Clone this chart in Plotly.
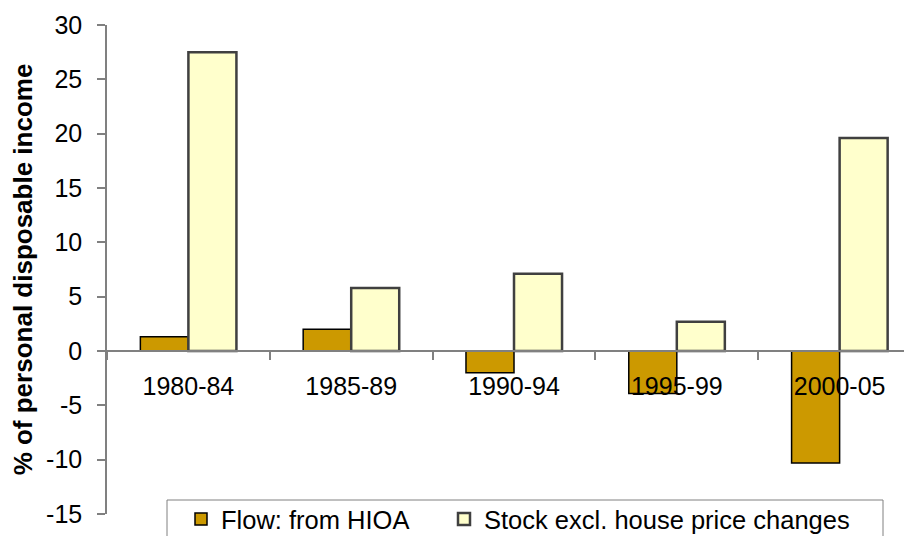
import plotly.graph_objects as go

categories = ["1980-84", "1985-89", "1990-94", "1995-99", "2000-05"]
flow_hioa = [1.3, 2.0, -2.0, -3.9, -10.3]
stock_excl = [27.5, 5.8, 7.1, 2.7, 19.6]
y_ticks = [-15, -10, -5, 0, 5, 10, 15, 20, 25, 30]

# The page body has an 8px margin, so the figure is drawn 8px in from the window edge.
OFF = 8
W, H = 912 - OFF, 536 - OFF
ML, MR, MT = 107 - OFF, 0, 25 - OFF
plot_h = 489
MB = H - MT - plot_h
plot_w = W - ML - MR
ymin, ymax = -15, 30
zero_pos = (0 - ymin) / (ymax - ymin)


def px_x(x):
    return (x - OFF - ML) / plot_w


def px_y(y):
    return (H - MB - (y - OFF)) / plot_h


FONT = "Liberation Sans, Arial, sans-serif"

fig = go.Figure()
fig.add_trace(go.Bar(
    x=categories, y=flow_hioa, name="Flow: from HIOA",
    marker=dict(color="#CC9900", line=dict(color="#000000", width=1.5)),
    legendwidth=218,
))
fig.add_trace(go.Bar(
    x=categories, y=stock_excl, name="Stock excl. house price changes",
    marker=dict(color="#FFFFCC", line=dict(color="#404040", width=2.5)),
    legendwidth=380,
))

# legend frame
fig.add_shape(
    type="rect", xref="paper", yref="paper",
    x0=px_x(167), x1=px_x(883), y0=px_y(560), y1=px_y(500),
    line=dict(color="#808080", width=1), fillcolor="white", layer="above",
)

fig.update_layout(
    width=W, height=H, autosize=False,
    margin=dict(l=ML, r=MR, t=MT, b=MB, pad=0, autoexpand=False),
    paper_bgcolor="white", plot_bgcolor="white",
    font=dict(family=FONT, size=25, color="#000000"),
    barmode="group", bargap=0.41, bargroupgap=0,
    showlegend=True,
    legend=dict(
        orientation="h",
        x=px_x(181), xanchor="left",
        y=px_y(496), yanchor="top",
        bgcolor="rgba(0,0,0,0)", borderwidth=0,
        font=dict(family=FONT, size=25.5, color="#000000"),
        entrywidthmode="pixels",
        traceorder="normal",
    ),
    xaxis=dict(
        type="category",
        range=[-0.5, 4.5 - 9 / 162.5],
        anchor="free", position=zero_pos,
        showline=True, linecolor="#808080", linewidth=1.5,
        ticks="outside", tickson="boundaries", ticklen=8,
        tickcolor="#808080", tickwidth=1.5,
        ticklabelstandoff=13,
        showgrid=False, zeroline=False, automargin=False,
        tickfont=dict(family=FONT, size=25, color="#000000"),
    ),
    yaxis=dict(
        range=[ymin, ymax],
        tickmode="array", tickvals=y_ticks, ticktext=[str(v) for v in y_ticks],
        showline=True, linecolor="#808080", linewidth=1.5,
        ticks="outside", ticklen=8, tickcolor="#808080", tickwidth=1.5,
        ticklabelstandoff=10,
        showgrid=False, zeroline=False, automargin=False,
        tickfont=dict(family=FONT, size=25, color="#000000"),
        title=dict(
            text="<b>% of personal disposable income</b>",
            font=dict(family=FONT, size=26, color="#000000"),
            standoff=6,
        ),
    ),
)

fig.write_html("out.html")
